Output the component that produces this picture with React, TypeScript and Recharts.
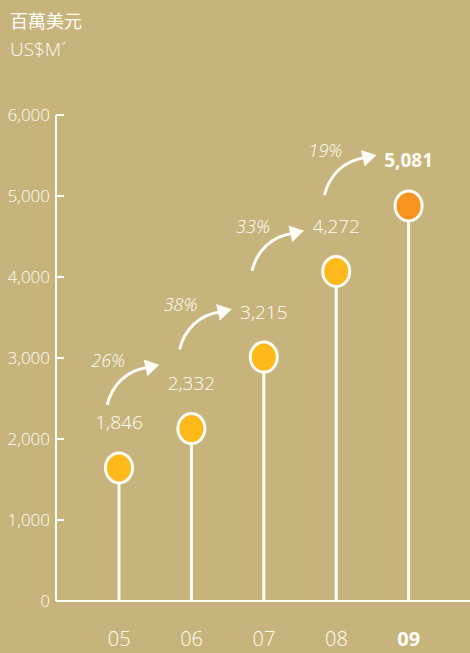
import { BarChart, Bar, XAxis, YAxis } from 'recharts'

const years = ['05', '06', '07', '08', '09']
const revenue = [1846, 2332, 3215, 4272, 5081]
const growth = ['26%', '38%', '33%', '19%']
const yTicks = [0, 1000, 2000, 3000, 4000, 5000, 6000]

const data = years.map((year, i) => ({ year, value: revenue[i] }))

const BG = '#C7B47C'
const INK = '#FFFDF6'
const YELLOW = '#FDB81A'
const ORANGE = '#F7931E'
const FONT = '"Open Sans", "Noto Sans", sans-serif'

const W = 470
const H = 653
const AXIS_X = 56
const PAD_L = 27
const PAD_R = 25
const STEP = (W - AXIS_X - PAD_L - PAD_R) / years.length

const fmt = (v: number) => v.toLocaleString('en-US')

function Arrow({ sx, sy, tx, ty }: { sx: number; sy: number; tx: number; ty: number }) {
  // head points right and slightly up; shaft is a soft arc that rises from the start
  const dx = 13.5
  const dy = -3
  const len = Math.hypot(dx, dy)
  const ux = dx / len
  const uy = dy / len
  const ex = tx - ux * 11
  const ey = ty - uy * 11
  const bx = tx - ux * 14
  const by = ty - uy * 14
  const px = -uy * 8.5
  const py = ux * 8.5
  return (
    <g>
      <path
        d={`M${sx},${sy} C${sx + 5},${sy - 20} ${ex - 22},${ey + 3} ${ex},${ey}`}
        fill="none"
        stroke={INK}
        strokeWidth={3}
      />
      <polygon points={`${tx},${ty} ${bx + px},${by + py} ${bx - px},${by - py}`} fill={INK} />
    </g>
  )
}

function Lollipop(props: any) {
  const { x, y, width, height, index, value } = props
  const cx = x + width / 2
  const base = y + height
  const k = height / value
  const last = index === years.length - 1
  let arrow = null
  if (index > 0) {
    const prevX = cx - STEP
    const prevY = base - revenue[index - 1] * k
    const mx = (prevX + cx) / 2
    const my = (prevY + y) / 2
    const sx = mx - 48
    const sy = my - 27
    const tx = mx + 4
    const ty = my - 67
    arrow = (
      <g>
        <Arrow sx={sx} sy={sy} tx={tx} ty={ty} />
        <text
          x={sx + 1}
          y={ty + 2}
          textAnchor="middle"
          fill={INK}
          fontSize={18}
          fontStyle="italic"
          fontWeight={300}
          fontFamily={FONT}
        >
          {growth[index - 1]}
        </text>
      </g>
    )
  }
  return (
    <g>
      <line x1={cx} y1={base} x2={cx} y2={y + 30} stroke={INK} strokeWidth={3} />
      <ellipse
        cx={cx}
        cy={y + 16.5}
        rx={13.5}
        ry={15}
        fill={last ? ORANGE : YELLOW}
        stroke={INK}
        strokeWidth={3}
      />
      <text
        x={cx}
        y={y - 22}
        textAnchor="middle"
        fill={INK}
        fontSize={19}
        fontWeight={last ? 700 : 300}
        fontFamily={FONT}
      >
        {fmt(value)}
      </text>
      {arrow}
    </g>
  )
}

function YTick(props: any) {
  const { x, y, payload } = props
  return (
    <g>
      {payload.value > 0 && (
        <line x1={x} y1={y} x2={x + 8} y2={y} stroke={INK} strokeWidth={2} />
      )}
      <text
        x={x - 6}
        y={y + 6}
        textAnchor="end"
        fill={INK}
        fontSize={17}
        fontWeight={300}
        fontFamily={FONT}
      >
        {fmt(payload.value)}
      </text>
    </g>
  )
}

function XTick(props: any) {
  const { x, y, payload } = props
  const last = payload.value === years[years.length - 1]
  return (
    <text
      x={x}
      y={y + 45}
      textAnchor="middle"
      fill={INK}
      fontSize={20}
      fontWeight={last ? 700 : 300}
      fontFamily={FONT}
    >
      {payload.value}
    </text>
  )
}

export default function App() {
  return (
    <div style={{ position: 'absolute', left: 0, top: 0, width: W, height: H, background: BG, overflow: 'hidden' }}>
      <div
        style={{
          position: 'absolute',
          left: 10,
          top: 8,
          color: INK,
          fontFamily: '"Noto Sans CJK TC", sans-serif',
          fontWeight: 400,
          fontSize: 18,
          lineHeight: '24px',
        }}
      >
        百萬美元
      </div>
      <div
        style={{
          position: 'absolute',
          left: 10,
          top: 36,
          color: INK,
          fontFamily: FONT,
          fontWeight: 300,
          fontSize: 19,
          lineHeight: '26px',
        }}
      >
        US$M´
      </div>
      <BarChart
        width={W}
        height={H}
        data={data}
        margin={{ top: 115, right: 0, bottom: 0, left: 0 }}
        barSize={6}
      >
        <XAxis
          dataKey="year"
          height={52}
          padding={{ left: PAD_L, right: PAD_R }}
          axisLine={{ stroke: INK, strokeWidth: 2 }}
          tickLine={false}
          tickSize={0}
          tickMargin={0}
          tick={<XTick />}
          interval={0}
        />
        <YAxis
          width={AXIS_X}
          domain={[0, 6000]}
          ticks={yTicks}
          axisLine={{ stroke: INK, strokeWidth: 2 }}
          tickLine={false}
          tickSize={0}
          tickMargin={0}
          tick={<YTick />}
          interval={0}
        />
        <Bar dataKey="value" shape={<Lollipop />} isAnimationActive={false} />
      </BarChart>
    </div>
  )
}
